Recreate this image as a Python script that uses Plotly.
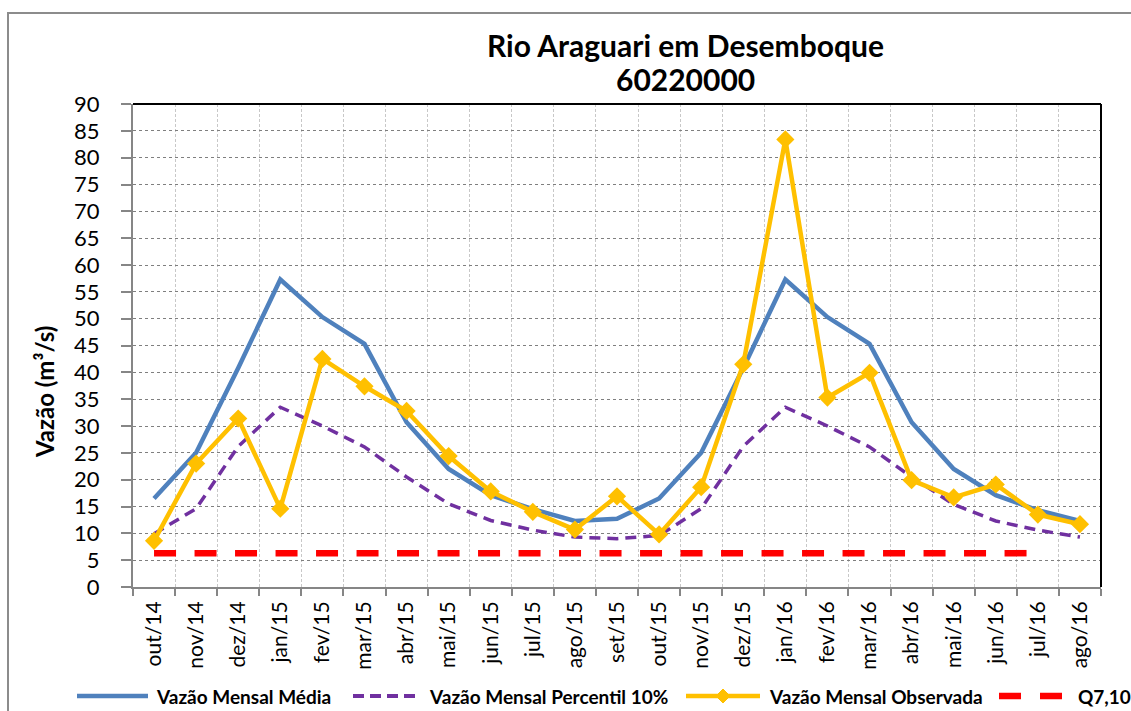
import plotly.graph_objects as go

# Monthly flow data for Rio Araguari em Desemboque (station 60220000)
meses = ["out/14", "nov/14", "dez/14", "jan/15", "fev/15", "mar/15", "abr/15",
         "mai/15", "jun/15", "jul/15", "ago/15", "set/15", "out/15", "nov/15",
         "dez/15", "jan/16", "fev/16", "mar/16", "abr/16", "mai/16", "jun/16",
         "jul/16", "ago/16"]

vazao_media = [16.5, 25.0, 40.8, 57.3, 50.3, 45.3, 30.7, 22.0, 17.1, 14.5, 12.3,
               12.7, 16.5, 25.0, 40.8, 57.3, 50.3, 45.3, 30.7, 22.0, 17.1, 14.3, 12.3]

percentil_10 = [9.9, 14.6, 26.2, 33.5, 30.0, 26.1, 20.5, 15.5, 12.4, 10.6, 9.3,
                9.0, 9.6, 14.6, 26.2, 33.5, 30.0, 26.1, 20.5, 15.4, 12.3, 10.6, 9.3]

observada = [8.6, 23.0, 31.4, 14.6, 42.5, 37.4, 32.8, 24.4, 17.8, 14.0, 10.7,
             16.9, 9.8, 18.6, 41.5, 83.4, 35.3, 39.9, 19.9, 16.7, 19.1, 13.5, 11.7]

q7_10 = [6.3, 6.3, 6.3, 6.3, 6.3, 6.3, 6.3, 6.3, 6.3, 6.3, 6.3,
         6.3, 6.3, 6.3, 6.3, 6.3, 6.3, 6.3, 6.3, 6.3, 6.3, 6.3, None]

y_ticks = [0, 5, 10, 15, 20, 25, 30, 35, 40, 45, 50, 55, 60, 65, 70, 75, 80, 85, 90]

nomes = ["Vazão Mensal Média", "Vazão Mensal Percentil 10%",
         "Vazão Mensal Observada", "Q7,10"]
cores = ["#4F81BD", "#7030A0", "#FFC000", "#FF0000"]

W, H = 1131, 711
ML, MR, MT, MB = 133, 30, 104, 124
PW, PH = W - ML - MR, H - MT - MB
FONT = "Lato"


def px_x(px):
    return (px - ML) / PW


def px_y(py):
    return (H - MB - py) / PH


fig = go.Figure()

fig.add_trace(go.Scatter(x=meses, y=vazao_media, name=nomes[0], mode="lines",
                         line=dict(color=cores[0], width=4.5), showlegend=False))
fig.add_trace(go.Scatter(x=meses, y=percentil_10, name=nomes[1], mode="lines",
                         line=dict(color=cores[1], width=3.5, dash="11px,7px"),
                         showlegend=False))
fig.add_trace(go.Scatter(x=meses, y=observada, name=nomes[2], mode="lines+markers",
                         line=dict(color=cores[2], width=4.5),
                         marker=dict(symbol="diamond", size=14, color=cores[2]),
                         showlegend=False))
fig.add_trace(go.Scatter(x=meses, y=q7_10, name=nomes[3], mode="lines",
                         line=dict(color=cores[3], width=6.5, dash="22px,18.5px"),
                         showlegend=False))

shapes = []
# plot area frame (top and right edges)
shapes.append(dict(type="line", xref="paper", yref="paper", x0=0, x1=1, y0=1, y1=1,
                   line=dict(color="black", width=2)))
shapes.append(dict(type="line", xref="paper", yref="paper", x0=1, x1=1, y0=0, y1=1,
                   line=dict(color="black", width=2)))
# outer chart border
shapes.append(dict(type="rect", xref="paper", yref="paper",
                   x0=px_x(8), x1=px_x(1145), y0=px_y(13), y1=px_y(725),
                   line=dict(color="#8C8C8C", width=2), layer="below"))

# legend drawn along the bottom
ly = 696
leg_items = [
    (77, 148, 154, dict(color=cores[0], width=4.5), False),
    (353, 418, 427, dict(color=cores[1], width=4, dash="11px,6px"), False),
    (686, 760, 767, dict(color=cores[2], width=4.5), True),
    (999, 1062, 1076, dict(color=cores[3], width=6.5, dash="22px,19px"), False),
]
annotations = []
for (x0, x1, xt, ln, diamond), nome in zip(leg_items, nomes):
    shapes.append(dict(type="line", xref="paper", yref="paper",
                       x0=px_x(x0), x1=px_x(x1), y0=px_y(ly), y1=px_y(ly), line=ln))
    if diamond:
        cx = (x0 + x1) / 2
        d = 7
        path = (f"M {px_x(cx)} {px_y(ly - d)} L {px_x(cx + d)} {px_y(ly)} "
                f"L {px_x(cx)} {px_y(ly + d)} L {px_x(cx - d)} {px_y(ly)} Z")
        shapes.append(dict(type="path", xref="paper", yref="paper", path=path,
                           fillcolor=cores[2], line=dict(color=cores[2], width=1)))
    annotations.append(dict(text=f"<b>{nome}</b>", xref="paper", yref="paper",
                            x=px_x(xt), y=px_y(ly), xanchor="left", yanchor="middle",
                            showarrow=False, font=dict(family=FONT, size=19, color="black")))

# chart title
annotations.append(dict(text="<b>Rio Araguari em Desemboque</b>", xref="paper", yref="paper",
                        x=px_x(685), y=px_y(45), xanchor="center", yanchor="middle",
                        showarrow=False, font=dict(family=FONT, size=30, color="black")))
annotations.append(dict(text="<b>60220000</b>", xref="paper", yref="paper",
                        x=px_x(685), y=px_y(79), xanchor="center", yanchor="middle",
                        showarrow=False, font=dict(family=FONT, size=30, color="black")))
# y-axis title
annotations.append(dict(text="<b>Vazão (m³/s)</b>", xref="paper", yref="paper",
                        x=px_x(44), y=px_y(392), xanchor="center", yanchor="middle",
                        textangle=-90, showarrow=False,
                        font=dict(family=FONT, size=24, color="black")))

fig.update_layout(
    width=W, height=H,
    margin=dict(l=ML, r=MR, t=MT, b=MB),
    paper_bgcolor="white", plot_bgcolor="white",
    font=dict(family=FONT, color="black"),
    shapes=shapes, annotations=annotations,
    showlegend=False,
)

fig.update_xaxes(
    type="category", categoryorder="array", categoryarray=meses,
    range=[-0.5, len(meses) - 0.5],
    tickson="boundaries", ticks="outside", ticklen=7, tickwidth=1.5, tickcolor="#868686",
    showline=True, linecolor="#868686", linewidth=2,
    showgrid=True, gridcolor="#C8C8C8", gridwidth=1, griddash="3px,2px",
    tickangle=-90, tickfont=dict(family=FONT, size=21, color="black"),
    ticklabelstandoff=4, zeroline=False,
)
fig.update_yaxes(
    range=[0, 90], tickvals=y_ticks, ticktext=[str(v) for v in y_ticks],
    ticks="outside", ticklen=10, tickwidth=1.5, tickcolor="#868686",
    showline=True, linecolor="#868686", linewidth=2,
    showgrid=True, gridcolor="#7F7F7F", gridwidth=1, griddash="dot",
    tickfont=dict(family=FONT, size=22, color="black"),
    ticklabelstandoff=17, zeroline=False,
)

fig.write_html("out.html")
